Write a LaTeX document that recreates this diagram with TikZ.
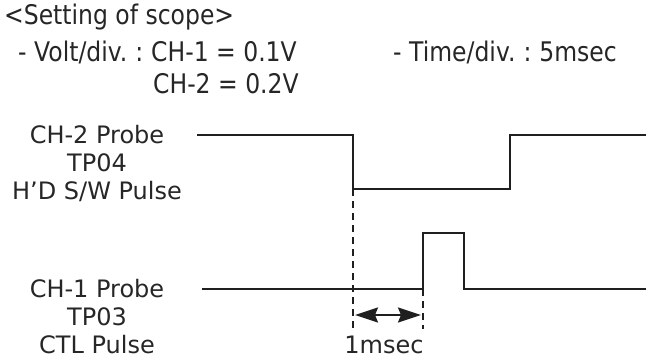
\documentclass[tikz,border=0pt]{standalone}
\usepackage{fontspec}
\setmainfont{DejaVu Sans}
\newfontfamily\condfont[FakeStretch=0.87]{DejaVu Sans}
\usetikzlibrary{arrows.meta}
\begin{document}
\begin{tikzpicture}[x=1pt,y=1pt,
  wave/.style={line width=2.5pt, line join=miter, color=black!88},
  guide/.style={line width=1.8pt, dash pattern=on 7pt off 5pt, color=black!88},
  lbl/.style={align=center, inner sep=0pt, font=\fontsize{24}{28}\selectfont, text=black!85},
  hdr/.style={anchor=west, inner sep=0pt, font=\condfont\fontsize{27}{30}\selectfont, text=black!85},
  dimarrow/.style={line width=2pt, color=black!88,
    {Stealth[length=23pt,width=15pt,inset=3pt]}-{Stealth[length=23pt,width=15pt,inset=3pt]}}]
\useasboundingbox (0,0) rectangle (648,-360);
% header
\node[hdr] (h1) at (4,-17) {<Setting of scope>};
\node[hdr] (h2) at (18,-52) {- Volt/div.\hspace{-2pt} :\hspace{-2pt} CH-1 = 0.1V};
\node[hdr] (h3) at (153,-84) {CH-2 = 0.2V};
\node[hdr] (h4) at (393,-52) {- Time/div.\hspace{-2pt} :\hspace{-2pt} 5msec};
% labels
\node[lbl] (l2) at (97,-163) {CH-2 Probe\\TP04\\H’D S/W Pulse};
\node[lbl] (l1) at (97,-317) {CH-1 Probe\\TP03\\CTL Pulse};
% CH-2 waveform
\coordinate (a0) at (197,-135);
\coordinate (a1) at (353,-135);
\coordinate (a2) at (353,-189);
\coordinate (a3) at (510,-189);
\coordinate (a4) at (510,-135);
\coordinate (a5) at (646,-135);
\draw[wave] (a0) -- (a1) -- (a2) -- (a3) -- (a4) -- (a5);
% CH-1 waveform
\coordinate (b0) at (202,-289);
\coordinate (b1) at (423,-289);
\coordinate (b2) at (423,-233);
\coordinate (b3) at (464,-233);
\coordinate (b4) at (464,-289);
\coordinate (b5) at (646,-289);
\draw[wave] (b0) -- (b1) -- (b2) -- (b3) -- (b4) -- (b5);
% guides
\coordinate (d1) at (353,-329);
\coordinate (d2) at (423,-329);
\draw[guide] (a2) -- (d1);
\draw[guide] (b1) -- (d2);
% dimension arrow
\coordinate (m1) at (355,-315);
\coordinate (m2) at (421,-315);
\draw[dimarrow] (m1) -- (m2);
\node[lbl] (t) at (384,-345) {1msec};
\end{tikzpicture}
\end{document}
